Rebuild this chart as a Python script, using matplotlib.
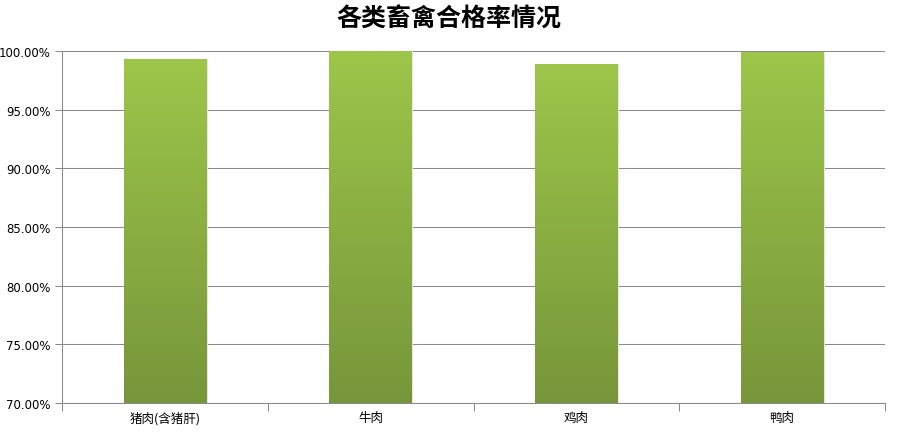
import numpy as np
import matplotlib.pyplot as plt
from matplotlib.colors import LinearSegmentedColormap
from matplotlib.ticker import FuncFormatter, MultipleLocator

plt.rcParams['font.family'] = ['Noto Sans CJK SC', 'DejaVu Sans']

categories = ["猪肉(含猪肝)", "牛肉", "鸡肉", "鸭肉"]
rates = [99.32, 100.00, 98.89, 99.95]
title = "各类畜禽合格率情况"

fig = plt.figure(figsize=(8.98, 4.35), dpi=100)
ax = fig.add_axes([62 / 898, 31 / 435, 823 / 898, 352 / 435])

ymin, ymax = 70, 100
x = np.arange(len(categories))
bars = ax.bar(x, rates, width=0.4, bottom=0, facecolor='none', edgecolor='none', zorder=3)

cmap = LinearSegmentedColormap.from_list("grn", ["#77963a", "#9dc64a"])
grad = np.linspace(0, 1, 256).reshape(-1, 1)
for b in bars:
    x0, w, h = b.get_x(), b.get_width(), b.get_height()
    # faint shadow on right side
    ax.bar(x0 + w / 2 + 0.008, h, width=w, color='#e6e6e6', zorder=2)
    im = ax.imshow(grad, cmap=cmap, origin='lower', aspect='auto',
                   extent=[x0, x0 + w, ymin, h], zorder=3)
    im.set_clip_path(b)

ax.set_xlim(-0.5, len(categories) - 0.5)
ax.set_ylim(ymin, ymax)
ax.yaxis.set_major_locator(MultipleLocator(5))
ax.yaxis.set_major_formatter(FuncFormatter(lambda v, p: f"{v:.2f}%"))
ax.grid(axis='y', color='#8a8a8a', linewidth=0.75, zorder=1)

ax.set_xticks(x)
ax.set_xticklabels(categories, fontsize=9)
ax.set_xticks(np.arange(len(categories) + 1) - 0.5, minor=True)
ax.tick_params(axis='x', which='major', length=0, pad=6)
ax.tick_params(axis='x', which='minor', length=6, width=0.75, color='#8a8a8a')
ax.tick_params(axis='y', length=5, width=0.75, color='#8a8a8a', labelsize=8.5, pad=3)
for lbl in ax.get_yticklabels():
    lbl.set_family(['DejaVu Sans'])

for s in ['top', 'right']:
    ax.spines[s].set_visible(False)
for s in ['left', 'bottom']:
    ax.spines[s].set_color('#8a8a8a')
    ax.spines[s].set_linewidth(0.75)

fig.text(0.5, 0.955, title, ha='center', va='center', fontsize=18, fontweight='bold')

fig.savefig("out.png", dpi=100)
